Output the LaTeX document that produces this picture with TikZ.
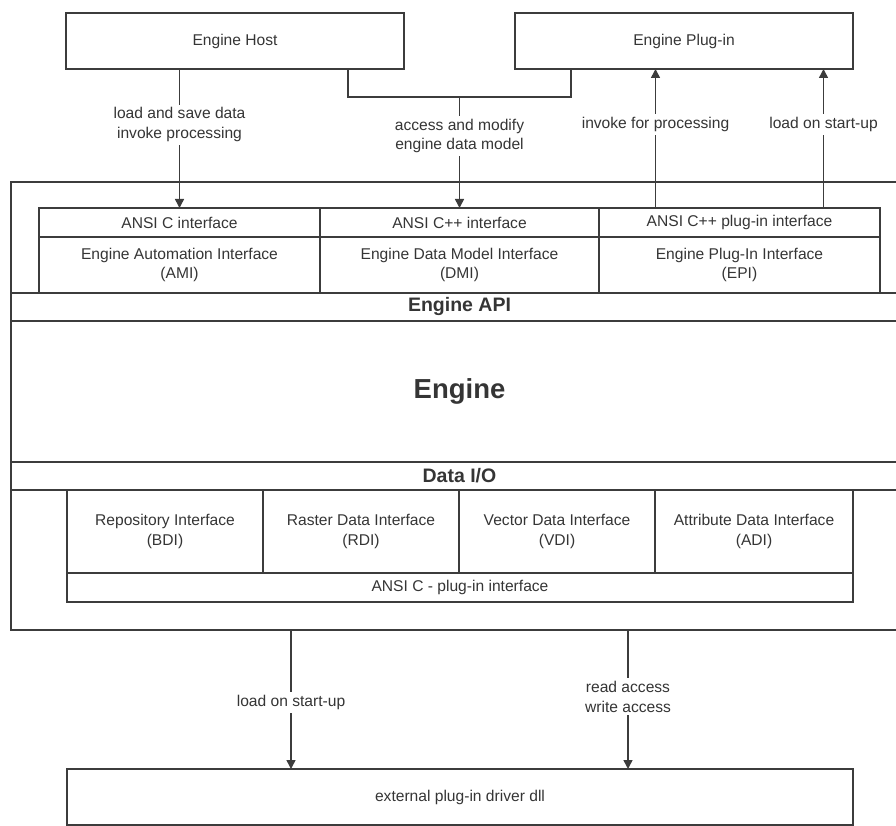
\documentclass[tikz,border=0pt]{standalone}
\usepackage{fontspec}
\setmainfont{Liberation Sans}
\usetikzlibrary{arrows.meta,calc}
\definecolor{ln}{HTML}{3C3C3C}
\definecolor{tx}{HTML}{353535}
\begin{document}
\begin{tikzpicture}[x=1pt,y=-1pt,
  box/.style={draw=ln, line width=1.6pt, inner sep=0pt, outer sep=0pt, anchor=north west,
              text=tx, font=\fontsize{15.6}{19.5}\selectfont, align=center},
  band/.style={box, font=\bfseries\fontsize{19.5}{22}\selectfont},
  arr/.style={draw=ln, line width=1.5pt, -{Triangle[length=9pt,width=9pt]}},
  lnk/.style={draw=ln, line width=1.5pt},
  lbl/.style={fill=white, text=tx, font=\fontsize{15.6}{19.5}\selectfont, align=center, inner sep=3pt}]
\useasboundingbox (0,0) rectangle (896,826);
\clip (0,0) rectangle (896,826);

% top boxes
\node[box, minimum width=338pt, minimum height=56pt] (host) at (66,13) {Engine Host};
\node[box, minimum width=338pt, minimum height=56pt] (plugin) at (515,13) {Engine Plug-in};

% outer engine container
\node[box, minimum width=897pt, minimum height=448pt] (outer) at (11,182) {};

% upper interface row
\node[box, minimum width=281pt, minimum height=29pt] (amiA) at (39,208) {ANSI C interface};
\node[box, minimum width=281pt, minimum height=56pt] (amiB) at (39,237) {Engine Automation Interface\\(AMI)};
\node[box, minimum width=279pt, minimum height=29pt] (dmiA) at (320,208) {ANSI C++ interface};
\node[box, minimum width=279pt, minimum height=56pt] (dmiB) at (320,237) {Engine Data Model Interface\\(DMI)};
\node[box, minimum width=281pt, minimum height=29pt] (epiA) at (599,208) {ANSI C++ plug-in interface};
\node[box, minimum width=281pt, minimum height=56pt] (epiB) at (599,237) {Engine Plug-In Interface\\(EPI)};

% bands
\node[band, minimum width=897pt, minimum height=28pt] (api) at (11,293) {Engine API};
\node[box, draw=none, minimum width=897pt, minimum height=141pt,
      font=\bfseries\fontsize{27.5}{31}\selectfont] (eng) at (11,321) {Engine};
\node[band, minimum width=897pt, minimum height=28pt] (dio) at (11,462) {Data I/O};

% lower interface row
\node[box, minimum width=196pt, minimum height=83pt] (bdi) at (67,490) {Repository Interface\\(BDI)};
\node[box, minimum width=196pt, minimum height=83pt] (rdi) at (263,490) {Raster Data Interface\\(RDI)};
\node[box, minimum width=196pt, minimum height=83pt] (vdi) at (459,490) {Vector Data Interface\\(VDI)};
\node[box, minimum width=198pt, minimum height=83pt] (adi) at (655,490) {Attribute Data Interface\\(ADI)};
\node[box, minimum width=786pt, minimum height=29pt] (cpi) at (67,573) {ANSI C - plug-in interface};

% external driver
\node[box, minimum width=786pt, minimum height=56pt] (ext) at (67,769) {external plug-in driver dll};

% connectors: host -> AMI
\draw[arr] (amiA.north |- host.south) -- (amiA.north)
  node[lbl, pos=0.4] {load and save data\\invoke processing};

% host / plug-in -> DMI
\coordinate (j) at ($(host.south east)!0.5!(plugin.south west)+(0,28)$);
\coordinate (hj) at ($(host.south east)+(-56,0)$);
\coordinate (pj) at ($(plugin.south west)+(56,0)$);
\draw[lnk] (hj) |- (j) -| (pj);
\draw[arr] (j) -- (j |- dmiA.north)
  node[lbl, pos=0.35] {access and modify\\engine data model};

% EPI -> plug-in
\coordinate (e1) at ($(epiA.north)+(-84,0)$);
\coordinate (e2) at ($(epiA.north)+(84,0)$);
\draw[arr] (e1) -- (e1 |- plugin.south) node[lbl, pos=0.6] {invoke for processing};
\draw[arr] (e2) -- (e2 |- plugin.south) node[lbl, pos=0.6] {load on start-up};

% engine -> external driver
\coordinate (b1) at ($(ext.north)+(-169,0)$);
\coordinate (b2) at ($(ext.north)+(168,0)$);
\draw[arr] (b1 |- outer.south) -- (b1) node[lbl, pos=0.52] {load on start-up};
\draw[arr] (b2 |- outer.south) -- (b2) node[lbl, pos=0.48] {read access\\write access};
\end{tikzpicture}
\end{document}
